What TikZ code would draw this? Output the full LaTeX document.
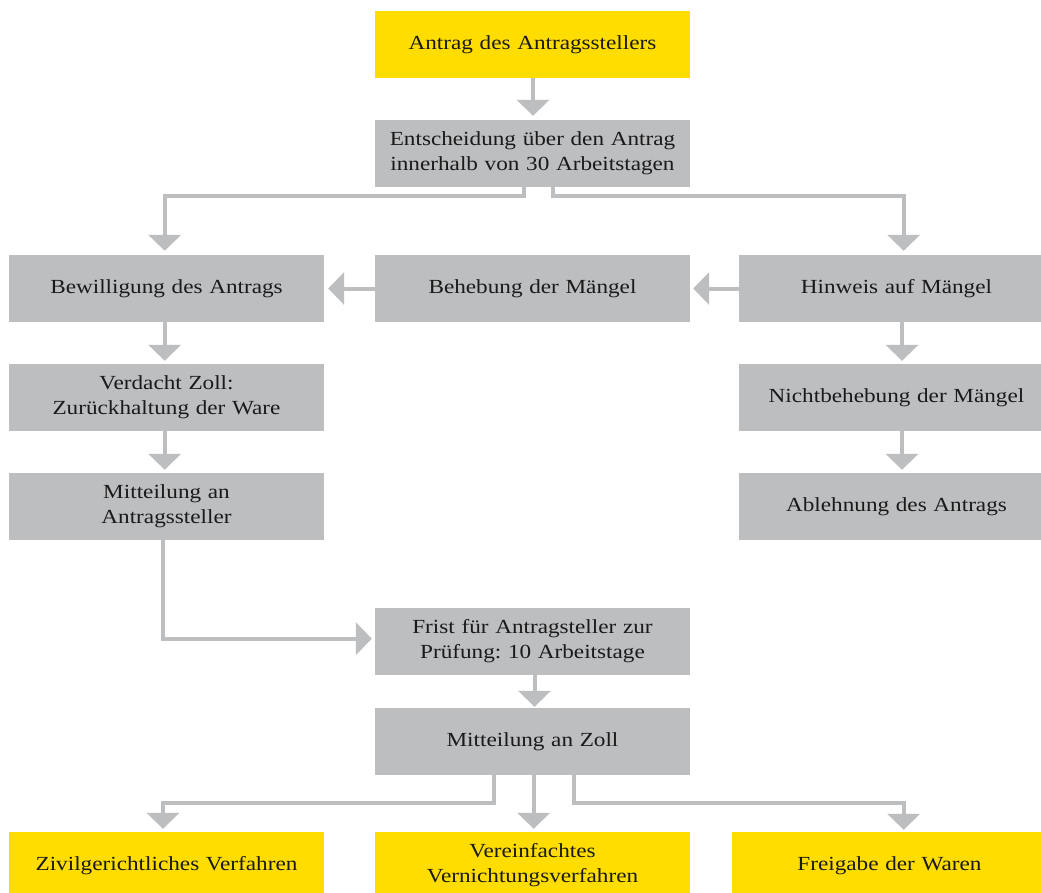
\documentclass[tikz,border=0pt]{standalone}
\usepackage{fontspec}
\setmainfont{Liberation Serif}[FakeStretch=1.16]
\usetikzlibrary{arrows.meta}
\frenchspacing
\definecolor{ey}{HTML}{FFDD00}
\definecolor{bx}{HTML}{BDBEC0}
\definecolor{ar}{HTML}{BDBEC0}
\definecolor{tx}{HTML}{1A1A1A}
\tikzset{
  box/.style={fill=bx, minimum width=315pt, minimum height=67pt, inner sep=0pt,
    text width=305pt, align=center, text=tx, font=\fontsize{20}{25}\selectfont\frenchspacing},
  ybox/.style={box, fill=ey},
  arr/.style={draw=ar, line width=4pt, line join=miter,
    -{Triangle[width=32pt,length=16pt]}, shorten >=4pt}
}
\begin{document}
\begin{tikzpicture}[x=1pt,y=-1pt]
\useasboundingbox (0,0) rectangle (1041,892);
\fill[white] (0,0) rectangle (1041,892);
\begin{scope}
\clip (0,0) rectangle (1041,892);
\node[ybox] (a) at (532.5,44.5) {Antrag des Antragsstellers};
\node[box] (b) at (532.5,153.5) {Entscheidung über den Antrag\\innerhalb von 30 Arbeitstagen};
\node[box] (c1) at (166.5,288.5) {Bewilligung des Antrags};
\node[box] (c2) at (532.5,288.5) {Behebung der Mängel};
\node[box] (c3) at (896.5,288.5) {Hinweis auf Mängel};
\node[box] (d1) at (166.5,397.5) {Verdacht Zoll:\\Zurückhaltung der Ware};
\node[box] (e1) at (166.5,506.5) {Mitteilung an\\Antragssteller};
\node[box] (d3) at (896.5,397.5) {Nichtbehebung der Mängel};
\node[box] (e3) at (896.5,506.5) {Ablehnung des Antrags};
\node[box] (f) at (532.5,641.5) {Frist für Antragsteller zur\\Prüfung: 10 Arbeitstage};
\node[box] (g) at (532.5,741.5) {Mitteilung an Zoll};
\node[ybox] (h1) at (166.5,865.5) {Zivilgerichtliches Verfahren};
\node[ybox] (h2) at (532.5,865.5) {Vereinfachtes\\Vernichtungsverfahren};
\node[ybox] (h3) at (889.5,865.5) {Freigabe der Waren};
\end{scope}

% connectors
\coordinate (bl) at (523.5,196);
\coordinate (br) at (553,196);
\coordinate (cl) at (164.7,196);
\coordinate (cr) at (903.7,196);
\coordinate (ef) at (163,638.7);
\coordinate (gl) at (493.7,802.7);
\coordinate (gr) at (573.7,802.7);
\coordinate (hl) at (163,802.7);
\coordinate (hr) at (903.7,802.7);

\draw[arr] ([xshift=0.5pt]a.south) -- ([xshift=0.5pt]b.north);
\draw[arr] (b.south -| bl) -- (bl) -- (cl) -- (c1.north -| cl);
\draw[arr] (b.south -| br) -- (br) -- (cr) -- (c3.north -| cr);
\draw[arr] (c2.west) -- (c1.east);
\draw[arr, shorten >=3pt] (c3.west) -- (c2.east);
\draw[arr, shorten >=3pt] (c1.south -| cl) -- (d1.north -| cl);
\draw[arr, shorten >=3pt] (d1.south -| cl) -- (e1.north -| cl);
\draw[arr, shorten >=3pt] ([xshift=5.5pt]c3.south) -- ([xshift=5.5pt]d3.north);
\draw[arr, shorten >=3pt] ([xshift=5.5pt]d3.south) -- ([xshift=5.5pt]e3.north);
\draw[arr, shorten >=3pt] (e1.south -| ef) -- (ef) -- (ef -| f.west);
\draw[arr, shorten >=1pt] ([xshift=2pt]f.south) -- ([xshift=2pt]g.north);
\draw[arr, shorten >=3pt] (g.south -| gl) -- (gl) -- (hl) -- (h1.north -| hl);
\draw[arr, shorten >=3pt] ([xshift=1.2pt]g.south) -- ([xshift=1.2pt]h2.north);
\draw[arr, shorten >=2pt] (g.south -| gr) -- (gr) -- (hr) -- (h3.north -| hr);
\end{tikzpicture}
\end{document}
